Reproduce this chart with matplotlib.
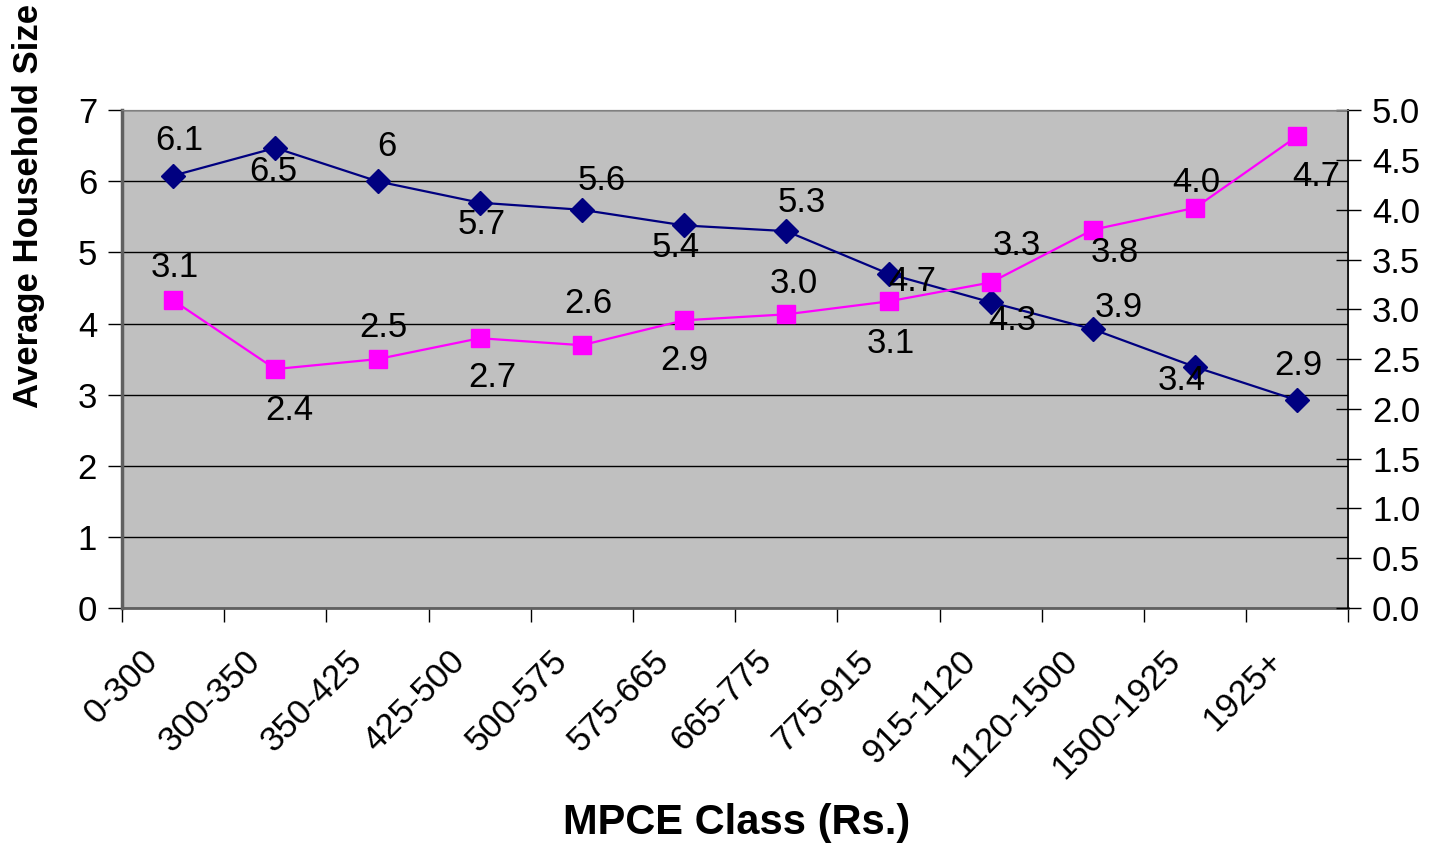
import matplotlib
matplotlib.use('Agg')
import matplotlib.pyplot as plt
import numpy as np

plt.rcParams['font.family'] = ['Liberation Sans', 'DejaVu Sans']

# MPCE classes
classes = ['0-300', '300-350', '350-425', '425-500', '500-575', '575-665',
           '665-775', '775-915', '915-1120', '1120-1500', '1500-1925', '1925+']

# average household size (left axis)
hh_size = [6.08, 6.47, 6.0, 5.7, 5.6, 5.38, 5.3, 4.7, 4.3, 3.92, 3.39, 2.92]
hh_labels = ['6.1', '6.5', '6', '5.7', '5.6', '5.4', '5.3', '4.7', '4.3', '3.9', '3.4', '2.9']

# second series (right axis)
second = [3.09, 2.40, 2.50, 2.71, 2.64, 2.89, 2.95, 3.08, 3.27, 3.80, 4.02, 4.74]
second_labels = ['3.1', '2.4', '2.5', '2.7', '2.6', '2.9', '3.0', '3.1', '3.3', '3.8', '4.0', '4.7']

# label offsets in pixels (dx, dy)
hh_off = [(6, 35), (-2, -24), (9, 35), (2, -22), (20, 29), (-9, -22),
          (15, 29), (24, -8), (22, -18), (26, 22), (-13, -14), (1, 35)]
sec_off = [(2, 33), (14, -41), (6, 32), (13, -39), (6, 42), (0, -40),
           (7, 31), (2, -42), (26, 37), (22, -23), (1, 25), (19, -40)]

navy = '#000080'
magenta = '#FF00FF'

fig = plt.figure(figsize=(14.31, 8.48), dpi=100)
ax = fig.add_axes([0.0853, 0.283, 0.857, 0.587])
ax.set_facecolor('#C0C0C0')

x = np.arange(len(classes)) + 0.5
ax.set_xlim(0, len(classes))
ax.set_ylim(0, 7)
ax.set_yticks(range(0, 8))
ax.yaxis.grid(True, color='black', linewidth=1)
ax.set_axisbelow(True)

ax.plot(x, hh_size, color=navy, lw=1.6, marker='D', ms=12, zorder=3, clip_on=False)

ax2 = ax.twinx()
ax2.set_ylim(0, 5)
ax2.set_yticks(np.arange(0, 5.01, 0.5))
ax2.set_yticklabels(['%.1f' % v for v in np.arange(0, 5.01, 0.5)])
ax2.plot(x, second, color=magenta, lw=1.6, marker='s', ms=13, zorder=3, clip_on=False)

fs = 25
for xi, yi, lab, off in zip(x, hh_size, hh_labels, hh_off):
    ax.annotate(lab, (xi, yi), xytext=off, textcoords='offset pixels',
                ha='center', va='center', fontsize=fs)
for xi, yi, lab, off in zip(x, second, second_labels, sec_off):
    ax2.annotate(lab, (xi, yi), xytext=off, textcoords='offset pixels',
                 ha='center', va='center', fontsize=fs)

# x ticks: marks at boundaries, labels slightly left of centres (rotated text)
ax.set_xticks(np.arange(0, len(classes) + 1), minor=True)
ax.set_xticks(x - 0.31)
ax.set_xticklabels(classes, rotation=45, ha='right', va='top',
                   rotation_mode='anchor', fontsize=fs)
ax.tick_params(axis='x', which='major', length=0, pad=26)
ax.tick_params(axis='x', which='minor', length=10, width=1, color='black')
ax.tick_params(axis='y', labelsize=fs, length=10, width=1, pad=8)
ax2.tick_params(axis='y', labelsize=fs, length=18, width=1, direction='inout', pad=8)

for s in ['top', 'right']:
    ax.spines[s].set_color('#808080')
    ax2.spines[s].set_color('#808080')
ax.spines['left'].set_color('#606060')
ax.spines['left'].set_linewidth(2.5)
ax.spines['bottom'].set_color('#606060')
ax.spines['bottom'].set_linewidth(2)
ax2.spines['right'].set_color('black')
ax2.spines['right'].set_linewidth(1.2)
ax2.spines['left'].set_visible(False)
ax2.spines['bottom'].set_visible(False)

fig.text(0.515, 0.03, 'MPCE Class (Rs.)', ha='center', va='center',
         fontsize=30, fontweight='bold')
fig.text(0.02, 0.757, 'Average Household Size', ha='center', va='center',
         rotation=90, fontsize=25, fontweight='bold')

fig.savefig('out.png', dpi=100)
